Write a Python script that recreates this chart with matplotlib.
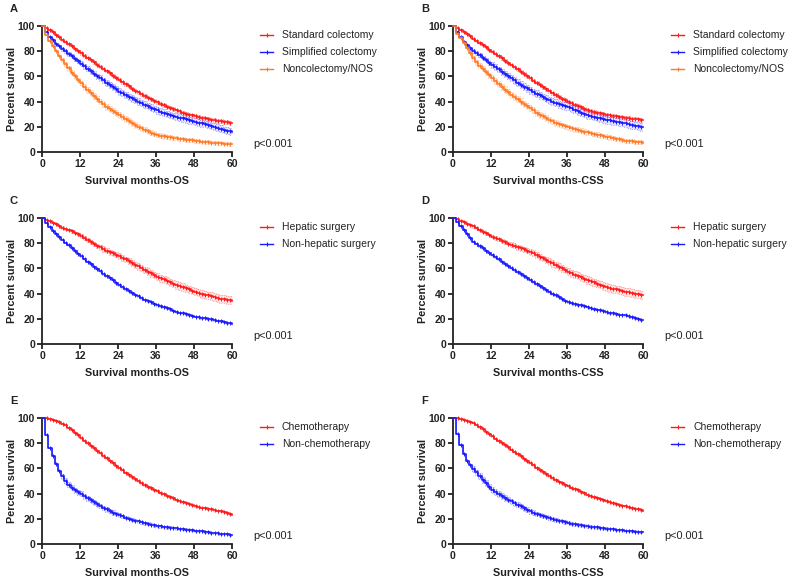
import numpy as np
import matplotlib
matplotlib.use("Agg")
import matplotlib.pyplot as plt

plt.rcParams['font.family'] = ['Liberation Sans', 'DejaVu Sans']

months = np.arange(0, 61)

# panel A / B : type of colectomy
aStandard = [100,98.5,96.5,95,93,91,89,87.3,85.5,83.8,82,80.2,78.3,76.5,74.7,72.9,71.2,69.4,67.7,65.9,64.2,62.5,60.7,58.9,57.2,55.4,53.7,52,50.3,48.8,47.3,45.8,44.4,43.1,41.8,40.6,39.4,38.3,37.2,36.1,35.1,34.1,33.1,32.2,31.3,30.5,29.7,29.0,28.4,27.8,27.2,26.7,26.2,25.7,25.2,24.7,24.3,23.9,23.5,23.1,22.8]
aSimplified = [100,95,91.5,88.5,86,84,82,80,78,76,74,72,70,68,66,64,62.2,60.3,58.5,56.8,55,53.2,51.5,49.8,48,46.6,45.2,43.8,42.5,41.2,40,38.8,37.6,36.4,35.2,34.1,33,32.1,31.2,30.3,29.5,28.7,28,27.3,26.6,25.9,25.2,24.6,24,23.4,22.8,22.2,21.5,20.8,20,19.3,18.6,17.5,17,16.5,16]
aNone = [100,93,88,84,80.5,76.5,73,69.5,66.3,63,60,57.2,54.5,51.8,49.3,46.8,44.5,42.2,40,38,36,34.2,32.5,30.9,29.4,27.8,26.2,24.6,23,21.5,20,18.8,17.6,16.5,15.4,14.4,13.5,12.9,12.4,12,11.6,11.2,10.8,10.4,10,9.7,9.4,9.2,9,8.6,8.3,8,7.8,7.5,7.2,7,6.8,6.7,6.6,6.5,6.4]
bStandard = [100,98.7,97,95.5,93.7,91.8,90,88.3,86.6,84.8,83.1,81.3,79.6,77.8,76,74.3,72.5,70.8,69,67.2,65.5,63.7,62,60.2,58.5,56.7,55,53.2,51.5,49.8,48.1,46.6,45.2,43.8,42.4,41.2,40,38.8,37.6,36.5,35.4,34.3,33.3,32.5,31.8,31.2,30.6,30,29.4,29,28.6,28.2,27.8,27.4,27,26.7,26.4,26.1,25.8,25.6,25.4]
bSimplified = [100,95.5,91,87.5,85,82.5,80.5,78.5,76.6,74.7,72.8,70.9,69,67.3,65.5,63.7,62,60.2,58.5,56.8,55.1,53.5,51.9,50.4,49,47.6,46.2,44.9,43.6,42.3,41,40,39,38,37,36.5,36,34.8,33.6,32.4,31.3,30.3,29.4,28.7,28,27.3,26.7,26,25.4,25,24.6,24.2,23.8,23.3,22.8,22.2,21.6,21,20.5,20,19.6]
bNone = [100,94,90.5,86.5,82.5,78.3,74.3,71.4,68.6,66,63.4,60.9,58.5,56.2,53.9,51.7,49.6,47.5,45.5,43.6,41.8,40,38.2,36.4,34.7,33,31.3,29.7,28.2,26.8,25.4,24.3,23.2,22.2,21.2,20.4,19.6,18.9,18.2,17.5,16.8,16.2,15.6,15,14.4,13.8,13.2,12.7,12.2,11.6,11.1,10.6,10.1,9.6,9.1,8.8,8.5,8.2,7.9,7.6,7.4]

# panel C / D : hepatic surgery
cHepatic = [100,98.8,97.5,96.2,95,93.7,92.4,91.4,90.4,89.3,88.2,87,85.8,84.2,82.6,81,79.4,77.9,76.6,75.4,74.2,73,71.9,70.8,69.7,68.4,67.1,65.8,64.4,63,61.6,60.2,58.8,57.4,56,54.7,53.5,52.3,51.2,50.1,49,47.9,46.9,46,45.1,44.2,43.3,42.4,41.6,40.8,40,39.2,38.5,37.8,37.1,36.5,36,35.5,35.1,34.7,34.4]
cNonHepatic = [100,96,92.5,89.5,87,84.8,82.8,80.5,78.2,76,73.8,71.6,69.5,67.4,65.4,63.4,61.4,59.5,57.6,55.8,54,52.2,50.4,48.7,47,45.4,43.8,42.2,40.7,39.2,37.7,36.5,35.3,34.2,33.1,32,31,30.1,29.2,28.3,27.4,26.5,25.7,25,24.3,23.6,23,22.4,21.8,21.3,20.8,20.4,20,19.6,19.2,18.6,18,17.4,16.8,16.3,15.9]
dHepatic = [100,99,97.8,96.7,95.5,94.4,93.3,92,90.6,89.2,87.8,86.5,85.3,84.1,83,81.9,80.8,79.7,78.7,77.8,76.9,76,75.1,74.2,73.3,72,70.6,69.2,67.9,66.6,65.3,64,62.6,61.3,60,58.6,57.3,56.2,55.1,54,52.9,51.8,50.7,49.8,48.9,48,47.1,46.2,45.3,44.6,43.9,43.3,42.7,42.1,41.5,40.9,40.4,39.9,39.4,39,38.7]
dNonHepatic = [100,97,93.8,90.5,87.5,84.3,81.3,79.5,77.7,75.9,74.1,72.4,70.7,68.9,67.1,65.3,63.5,61.7,60,58.4,56.8,55.3,53.8,52.2,50.7,49.1,47.5,45.9,44.4,42.8,41.3,39.9,38.5,37.1,35.8,34.5,33.3,32.6,31.9,31.2,30.6,30,29.3,28.6,27.9,27.3,26.6,25.9,25.3,24.8,24.3,23.8,23.4,23,22.7,21.9,21.1,20.3,19.6,19.1,18.7]

# panel E / F : chemotherapy
eChemo = [100,99.7,99.2,98.5,97.7,96.7,95.5,94.3,92.3,90.4,88.3,86.2,84,82,80,78,76,74,72,70,68,66.1,64.2,62.2,60.3,58.5,56.7,54.9,53.1,51.4,49.7,48.2,46.8,45.5,44.2,43,41.8,40.6,39.4,38.3,37.2,36.2,35.2,34.2,33.2,32.3,31.4,30.6,29.9,29.4,28.9,28.4,28,27.6,27.2,26.5,25.8,25.1,24.4,23.8,23.3]
eNonChemo = [100,86.8,76.2,69.5,63.2,58,53.7,50,47.2,44.8,42.7,41,39.8,38,36.3,34.6,33,31.4,30,28.7,27.4,26.2,25,23.9,22.8,21.9,21,20.2,19.4,18.6,17.9,17.2,16.6,16,15.4,14.9,14.4,14,13.6,13.3,13,12.7,12.4,12.1,11.8,11.5,11.2,10.9,10.6,10.3,10,9.7,9.4,9.1,8.8,8.5,8.2,7.9,7.6,7.4,7.2]
fChemo = [100,99.7,99.3,98.7,98,97.1,96,94.4,92.7,90.9,89.1,87.3,85.4,83.7,81.9,80.2,78.5,76.7,74.9,73.1,71.4,69.6,67.8,66,64.3,62.5,60.7,59,57.2,55.4,53.7,52.3,51,49.6,48.3,47,45.8,44.7,43.6,42.5,41.4,40.3,39.2,38.3,37.4,36.5,35.6,34.7,33.9,33.2,32.5,31.8,31.1,30.5,29.9,29.2,28.6,28,27.5,27,26.5]
fNonChemo = [100,87.6,78.3,71.4,65.6,62.5,59.7,56.8,53.9,51,48.3,45.6,43,41.3,39.6,38,36.5,35.2,33.9,32.5,31.1,29.8,28.4,27.1,25.9,24.9,24,23.1,22.3,21.4,20.6,19.9,19.2,18.5,17.9,17.3,16.7,16.2,15.8,15.3,14.8,14.4,14,13.7,13.4,13.1,12.8,12.5,12.2,11.9,11.7,11.4,11.2,10.9,10.6,10.4,10.1,9.9,9.7,9.5,9.3]

# 95% CI half widths, read every 6 months (0,6,...,60)
aStandardCI = [0,0.8,1,1.1,1.2,1.3,1.3,1.4,1.4,1.5,1.5]
aSimplifiedCI = [0,1.5,2,2.3,2.5,2.6,2.6,2.6,2.6,2.7,2.8]
aNoneCI = [0,1.8,2.2,2.3,2.2,2.0,1.8,1.6,1.5,1.4,1.3]
bStandardCI = [0,0.8,1,1.1,1.2,1.3,1.4,1.4,1.5,1.5,1.5]
bSimplifiedCI = [0,1.6,2.2,2.5,2.7,2.8,2.8,2.9,2.9,3,3]
bNoneCI = [0,2,2.4,2.5,2.4,2.2,2,1.8,1.7,1.6,1.5]
cHepaticCI = [0,1,1.6,2,2.3,2.6,2.8,3,3.1,3.2,3.3]
cNonHepaticCI = [0,0.5,0.6,0.7,0.7,0.7,0.7,0.7,0.7,0.7,0.7]
dHepaticCI = [0,1,1.5,2,2.3,2.6,2.8,3,3.1,3.2,3.3]
dNonHepaticCI = [0,0.5,0.6,0.7,0.7,0.7,0.7,0.7,0.7,0.7,0.7]
eChemoCI = [0,0.3,0.5,0.6,0.7,0.7,0.7,0.7,0.7,0.7,0.7]
eNonChemoCI = [0,2,2,1.8,1.5,1.2,1,0.9,0.8,0.8,0.8]
fChemoCI = [0,0.3,0.5,0.6,0.7,0.7,0.7,0.7,0.7,0.7,0.7]
fNonChemoCI = [0,2.2,2.2,2,1.7,1.4,1.2,1,0.9,0.9,0.9]

colectomyLabels = ["Standard colectomy", "Simplified colectomy", "Noncolectomy/NOS"]
hepaticLabels = ["Hepatic surgery", "Non-hepatic surgery"]
chemoLabels = ["Chemotherapy", "Non-chemotherapy"]

red = "#ff1a1a"
blue = "#1a1aff"
orange = "#ff7a26"
textColor = "#222222"

W, H = 793, 584


def fx(px):
    return px / W


def fy(py):
    return 1 - py / H


def drawCurve(ax, vals, ci, color):
    vals = np.array(vals, dtype=float)
    hw = np.repeat(ci, 6)[:len(vals)]
    lo = np.clip(vals - hw, 0, 100)
    hi = np.clip(vals + hw, 0, 100)
    ax.fill_between(months, lo, hi, step='post', color=color, alpha=0.12, lw=0)
    ax.step(months, lo, where='post', color=color, alpha=0.45, lw=0.6, ls=(0, (1, 1)))
    ax.step(months, hi, where='post', color=color, alpha=0.45, lw=0.6, ls=(0, (1, 1)))
    ax.step(months, vals, where='post', color=color, lw=1.2, clip_on=False, zorder=3)
    # censor ticks
    ax.plot(months[1:-1] + 0.5, vals[1:-1], ls='none', marker='|', ms=2.2, mew=0.7,
            color=color, clip_on=False, zorder=3)


def drawPanel(left, top, letter, series, labels, colors, endpoint):
    axW, axH = 190, 126
    ax = fig.add_axes([fx(left), fy(top + axH), axW / W, axH / H])
    for (vals, ci), c in zip(series, colors):
        drawCurve(ax, vals, ci, c)
    ax.set_xlim(0, 60)
    ax.set_ylim(0, 100)
    ax.set_xticks(range(0, 61, 12))
    ax.set_yticks(range(0, 101, 20))
    for s in ['top', 'right']:
        ax.spines[s].set_visible(False)
    for s in ['left', 'bottom']:
        ax.spines[s].set_linewidth(1.3)
        ax.spines[s].set_color(textColor)
    ax.tick_params(direction='out', length=3.5, width=1.3, labelsize=7.5, pad=1.5,
                   colors=textColor)
    for t in ax.get_xticklabels() + ax.get_yticklabels():
        t.set_fontweight('bold')
    ax.set_xlabel("Survival months-" + endpoint, fontsize=7.8, fontweight='bold', color=textColor)
    ax.set_ylabel("Percent survival", fontsize=7.8, fontweight='bold', color=textColor)
    ax.xaxis.set_label_coords(0.5, -0.19)
    ax.yaxis.set_label_coords(-0.13, 0.5)

    fig.text(fx(left - 32), fy(top - 17.5), letter, fontsize=8, fontweight='bold',
             ha='left', va='center', color=textColor)

    # legend drawn by hand, like the prism layout
    hx0 = left + 218
    for i, (lab, c) in enumerate(zip(labels, colors)):
        yy = top + 9 + i * 17
        fig.add_artist(plt.Line2D([fx(hx0), fx(hx0 + 13)], [fy(yy), fy(yy)], color=c, lw=1.0))
        fig.add_artist(plt.Line2D([fx(hx0 + 6.5)], [fy(yy)], color=c, marker='|', ms=3, mew=0.8))
        fig.text(fx(hx0 + 22), fy(yy), lab, fontsize=7.5, ha='left', va='center', color=textColor)

    fig.text(fx(left + 211), fy(top + 118), "p<0.001", fontsize=7.8, ha='left', va='center',
             color=textColor)
    return ax


fig = plt.figure(figsize=(W / 100, H / 100), dpi=100)

drawPanel(42, 26, "A", [(aStandard, aStandardCI), (aSimplified, aSimplifiedCI), (aNone, aNoneCI)],
          colectomyLabels, [red, blue, orange], "OS")
drawPanel(453, 26, "B", [(bStandard, bStandardCI), (bSimplified, bSimplifiedCI), (bNone, bNoneCI)],
          colectomyLabels, [red, blue, orange], "CSS")
drawPanel(42, 218, "C", [(cHepatic, cHepaticCI), (cNonHepatic, cNonHepaticCI)],
          hepaticLabels, [red, blue], "OS")
drawPanel(453, 218, "D", [(dHepatic, dHepaticCI), (dNonHepatic, dNonHepaticCI)],
          hepaticLabels, [red, blue], "CSS")
drawPanel(42, 418, "E", [(eChemo, eChemoCI), (eNonChemo, eNonChemoCI)],
          chemoLabels, [red, blue], "OS")
drawPanel(453, 418, "F", [(fChemo, fChemoCI), (fNonChemo, fNonChemoCI)],
          chemoLabels, [red, blue], "CSS")

fig.savefig("out.png", dpi=100)
